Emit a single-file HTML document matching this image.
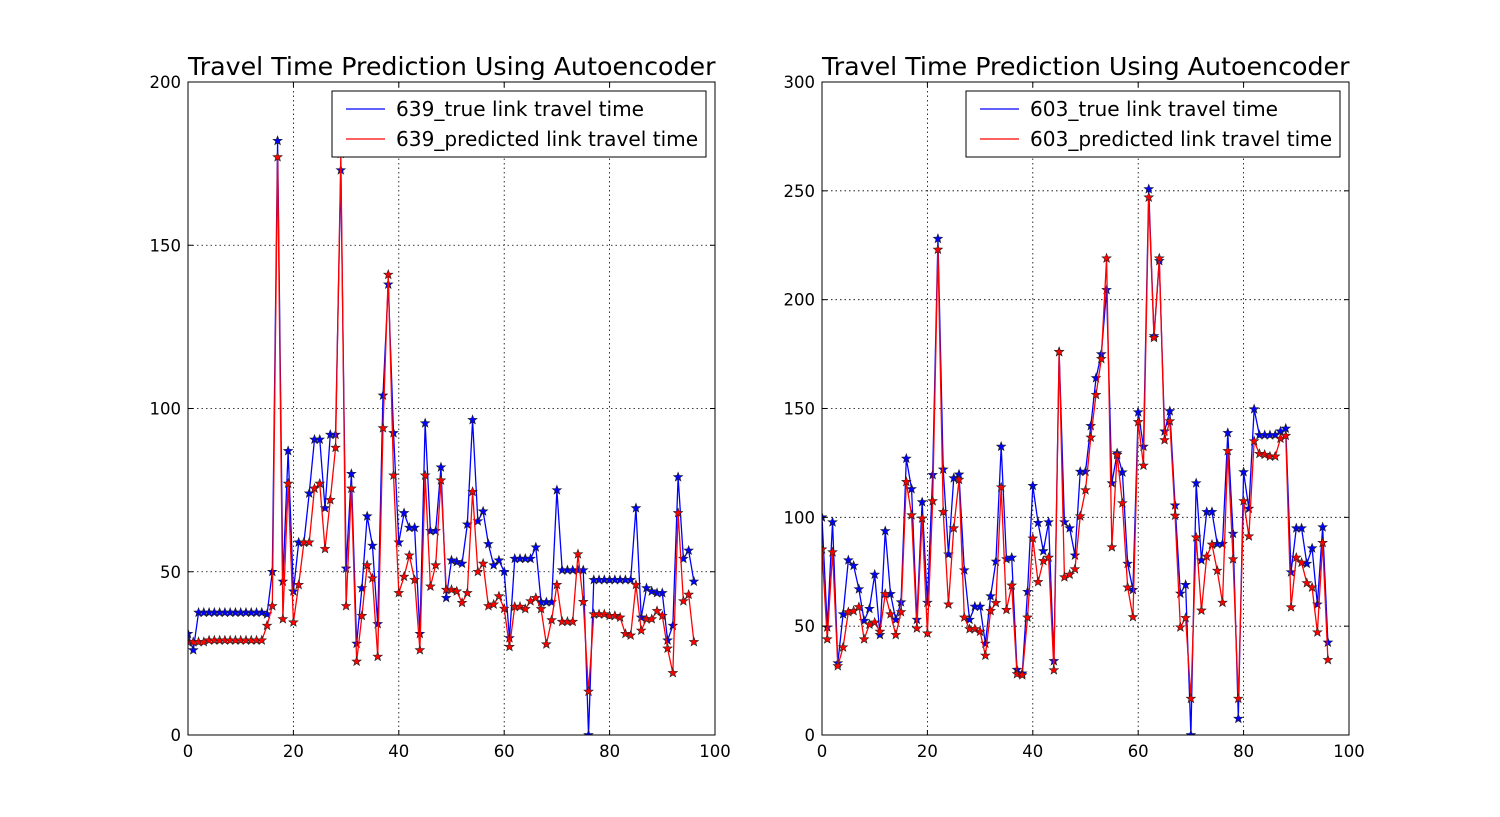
<!DOCTYPE html>
<html><head><meta charset="utf-8"><style>
html,body{margin:0;padding:0;background:#fff;}
svg{display:block;font-family:"DejaVu Sans","Liberation Sans",sans-serif;}
</style></head><body>
<svg id="fig" width="1500" height="817" viewBox="0 0 1500 817" xmlns="http://www.w3.org/2000/svg"></svg>
<script>
const xTicks=[0,20,40,60,80,100];
const leftYTicks=[0,50,100,150,200];
const rightYTicks=[0,50,100,150,200,250,300];
const leftTrue=[31,26,37.5,37.5,37.5,37.5,37.5,37.5,37.5,37.5,37.5,37.5,37.5,37.5,37.5,37,50,182,47,87,44,59,59,74,90.5,90.5,69.5,92,92,173,51,80,28,45,67,58,34,104,138,92.5,59,68,63.5,63.5,31,95.5,62.5,62.5,82,42,53.5,53,52.5,64.5,96.5,65.5,68.5,58.5,52,53.5,50,29.7,54,54,54,54,57.5,40.7,40.7,40.7,75,50.5,50.5,50.5,50.5,50.5,0,47.5,47.5,47.5,47.5,47.5,47.5,47.5,47.5,69.5,36,45,44,43.5,43.5,29,33.5,79,54,56.5,47];
const leftPred=[28.5,28.5,28.5,28.5,29,29,29,29,29,29,29,29,29,29,29,33.5,39.5,177,35.5,77,34.5,46,59,59,75.5,77,57,72,88,178,39.5,75.5,22.5,36.5,52,48,24,94,141,79.5,43.5,48.5,55,47.5,26,79.5,45.5,52,78,44.5,44.5,44,40.5,43.5,74.5,50,52.5,39.5,40,42.5,38.7,27,39.3,39.3,38.6,41,42,38.6,27.8,35.2,46,34.7,34.7,34.7,55.4,40.8,13.3,37,37,37,36.5,36.5,36,31,30.5,46,32,35.5,35.5,38,36.5,26.5,19,68,41,43,28.5];
const rightTrue=[100,49.5,97.8,33,55.5,80.3,77.8,67,52.5,58,73.7,46,93.7,64.8,53,61,127,113,53,107,60.8,119.5,228,122,83,118,119.7,75.7,53,59,59,42,63.8,79.7,132.5,80.8,81.5,30,28.3,65.8,114.5,97.5,84.5,97.8,34,176,97.8,95,82.5,121,121,142,164,175,204.5,115.7,129.5,120.7,78.7,66.7,148.3,132.5,250.8,183.3,217.8,139.5,148.8,105.5,65,69,0,115.7,80.3,102.5,102.5,87.8,87.8,138.8,92.5,7.5,120.8,104,149.7,137.8,137.8,137.8,137.8,139.5,140.8,74.8,95,95,78.7,85.8,60,95.5,42.5];
const rightPred=[85.3,44,84,31.7,40.3,56.5,57,58.8,44,50.8,51.7,47.5,64.8,55.5,46,56.5,116.3,101,49,99.5,46.7,107.5,223,102.5,60,95,117.3,54,48.7,48.7,47.5,36.5,57,60.7,113.8,57.5,68.7,28,27.5,54,90.3,70.3,80,81.5,29.8,176,72.5,73.7,76.2,100.5,112.5,136.7,156.3,172.8,219,86.3,128.7,106.5,67.8,54.2,143.8,123.8,247,182.5,219,135.5,144.2,100.8,49.5,53.8,16.7,90.8,57.2,82,87.5,75.5,60.8,130.5,80.8,16.7,107.5,91.3,135,129.2,128.8,128,128,136.2,137.5,58.7,81.5,79.2,69.8,67.8,47.2,88.3,34.5];

const NS="http://www.w3.org/2000/svg";
const svg=document.getElementById('fig');
function mk(tag,attrs,parent){const e=document.createElementNS(NS,tag);for(const k in attrs)e.setAttribute(k,attrs[k]);(parent||svg).appendChild(e);return e;}
function starPath(cx,cy,r){let d='';for(let k=0;k<10;k++){const rr=k%2?r*0.42:r;const a=-Math.PI/2+k*Math.PI/5;d+=(k?'L':'M')+(cx+rr*Math.cos(a)).toFixed(2)+' '+(cy+rr*Math.sin(a)).toFixed(2);}return d+'Z';}

function panel(prefix,x0,x1,yMax,yTicks,trueVals,predVals,id){
  const y0=735,y1=82;
  const g=mk('g',{});
  
  
  const sx=v=>x0+(v/100)*(x1-x0);
  const sy=v=>y0-(v/yMax)*(y0-y1);
  const cp=mk('clipPath',{id:'clip'+prefix},g);
  mk('rect',{x:x0,y:y1,width:x1-x0,height:y0-y1},cp);
  xTicks.forEach(t=>{if(t>0&&t<100){const l=mk('line',{x1:sx(t),x2:sx(t),y1:y1,y2:y0,stroke:'#000','stroke-width':0.8,'stroke-dasharray':'1.5,3'},g);}});
  yTicks.forEach(t=>{if(t>0&&t<yMax){const l=mk('line',{x1:x0,x2:x1,y1:sy(t),y2:sy(t),stroke:'#000','stroke-width':0.8,'stroke-dasharray':'1.5,3'},g);}});
  const plot=mk('g',{'clip-path':'url(#clip'+prefix+')'},g);
  [[trueVals,'#0000ff','true-series'],[predVals,'#ff0000','predicted-series']].forEach(([vals,col,nm])=>{
    const pts=vals.map((v,i)=>sx(i).toFixed(2)+','+sy(v).toFixed(2)).join(' ');
    const pl=mk('polyline',{points:pts,fill:'none',stroke:col,'stroke-width':1.3},plot);
    
    
    vals.forEach((v,i)=>{
      const s=mk('path',{d:starPath(sx(i),sy(v),4.8),fill:col,stroke:'#222','stroke-width':0.6},plot);
      
      
    });
  });
  const fr=mk('rect',{x:x0,y:y1,width:x1-x0,height:y0-y1,fill:'none',stroke:'#000','stroke-width':1},g);
  
  
  xTicks.forEach(t=>{
    mk('line',{x1:sx(t),x2:sx(t),y1:y0,y2:y0-5,stroke:'#000'},g);
    mk('line',{x1:sx(t),x2:sx(t),y1:y1,y2:y1+5,stroke:'#000'},g);
    const tx=mk('text',{x:sx(t),y:y0+22,'font-size':16.5,'text-anchor':'middle',fill:'#000'},g);
    tx.textContent=t;
    
    
  });
  yTicks.forEach(t=>{
    mk('line',{x1:x0,x2:x0+5,y1:sy(t),y2:sy(t),stroke:'#000'},g);
    mk('line',{x1:x1,x2:x1-5,y1:sy(t),y2:sy(t),stroke:'#000'},g);
    const tx=mk('text',{x:x0-7,y:sy(t)+6,'font-size':16.5,'text-anchor':'end',fill:'#000'},g);
    tx.textContent=t;
    
    
  });
  const ti=mk('text',{x:x0,y:75,'font-size':25.3,fill:'#000'},g);
  ti.textContent='Travel Time Prediction Using Autoencoder';
  
  
  const lg=mk('g',{},g);
  
  
  const lx=x0+144;
  mk('rect',{x:lx,y:91,width:374,height:66,fill:'#fff',stroke:'#000','stroke-width':1},lg);
  [['#0000ff',id+'_true link travel time',109,'legend-entry-true'],['#ff0000',id+'_predicted link travel time',139,'legend-entry-predicted']].forEach(([c,txt,yy,nm])=>{
    const e=mk('g',{},lg);
    
    
    mk('line',{x1:lx+14,x2:lx+53,y1:yy,y2:yy,stroke:c,'stroke-width':1.3},e);
    const t=mk('text',{x:lx+64,y:yy+7,'font-size':20.1,fill:'#000'},e);
    t.textContent=txt;
  });
}
panel('left',188,715,200,leftYTicks,leftTrue,leftPred,'639');
panel('right',822,1349,300,rightYTicks,rightTrue,rightPred,'603');
</script>
</body></html>
